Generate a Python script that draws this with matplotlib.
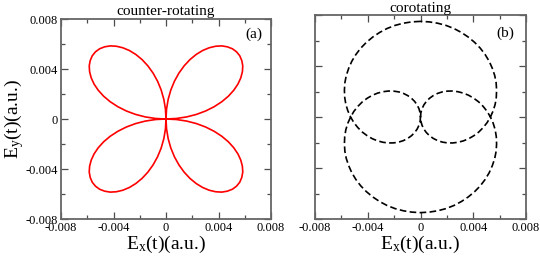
import numpy as np
import matplotlib.pyplot as plt
from matplotlib.ticker import MultipleLocator

plt.rcParams['font.family'] = ['Liberation Serif', 'DejaVu Serif']
plt.rcParams['mathtext.fontset'] = 'custom'
plt.rcParams['mathtext.rm'] = 'Liberation Serif'
plt.rcParams['mathtext.it'] = 'Liberation Serif:italic'

# (a) counter-rotating: radius of one leaf (a.u.) read at polar angles 0..90 deg
leaf_angle = np.arange(0, 91, 3)
leaf_radius = [0.0, 0.000794, 0.00158, 0.00235, 0.00309, 0.0038, 0.00447, 0.00509,
               0.00565, 0.00615, 0.00658, 0.00694, 0.00723, 0.00743, 0.00756, 0.0076,
               0.00756, 0.00743, 0.00723, 0.00694, 0.00658, 0.00615, 0.00565, 0.00509,
               0.00447, 0.0038, 0.00309, 0.00235, 0.00158, 0.000794, 0.0]

# (b) corotating: signed radius read along polar angle 90..270 deg (first quarter of the trace)
co_angle = np.arange(90, 811, 5)
co_radius_q = [0.0075, 0.00749, 0.00747, 0.00744, 0.00739, 0.00732, 0.00724, 0.00715,
               0.00705, 0.00693, 0.0068, 0.00665, 0.0065, 0.00633, 0.00614, 0.00595,
               0.00575, 0.00553, 0.0053, 0.00507, 0.00482, 0.00457, 0.0043, 0.00403,
               0.00375, 0.00346, 0.00317, 0.00287, 0.00257, 0.00226, 0.00194, 0.00162,
               0.0013, 0.00098, 0.00065, 0.00033, 0.0]

ticks = [-0.008, -0.004, 0, 0.004, 0.008]
tick_labels = ['-0.008', '-0.004', '0', '0.004', '0.008']

# build full traces using the symmetry of the curves
leaf = np.array(leaf_radius)
r_a = np.concatenate([leaf, leaf[1:], leaf[1:], leaf[1:]])
th_a = np.deg2rad(np.arange(0, 361, 3))
xa, ya = r_a * np.cos(th_a), r_a * np.sin(th_a)

q = np.array(co_radius_q)
r_b = np.concatenate([q, -q[::-1][1:], -q[1:], q[::-1][1:]])
th_b = np.deg2rad(co_angle)
xb, yb = r_b * np.cos(th_b), r_b * np.sin(th_b)

fig = plt.figure(figsize=(5.4, 2.56), dpi=100)
ax1 = fig.add_axes([61/540, 37/256, 210/540, 200/256])
ax2 = fig.add_axes([315/540, 37/256, 211/540, 204/256])

ax1.plot(xa, ya, color='#ff0000', lw=1.2)
ax2.plot(xb, yb, color='black', lw=1.2, linestyle=(0, (4, 2)))

for ax in (ax1, ax2):
    ax.set_xlim(-0.008, 0.008)
    ax.set_ylim(-0.008, 0.008)
    ax.set_xticks(ticks)
    ax.set_yticks(ticks)
    ax.set_xticklabels(tick_labels)
    ax.xaxis.set_minor_locator(MultipleLocator(0.002))
    ax.yaxis.set_minor_locator(MultipleLocator(0.002))
    ax.tick_params(which='both', direction='in', top=True, right=True,
                   labelsize=9, width=0.9, color='0.3', pad=2)
    ax.tick_params(which='major', length=5)
    ax.tick_params(which='minor', length=3)
    for s in ax.spines.values():
        s.set_color('0.4')
        s.set_linewidth(1.3)
    ax.set_xlabel(r'E$_\mathrm{x}$(t)(a.u.)', fontsize=14, labelpad=0)

ax1.set_yticklabels(tick_labels)
ax2.set_yticklabels([])
ax1.set_ylabel(r'E$_\mathrm{y}$(t)(a.u.)', fontsize=14, labelpad=0)

ax1.set_title('counter-rotating', fontsize=11, pad=3)
ax2.set_title('corotating', fontsize=11, pad=1)
ax1.text(0.92, 0.925, '(a)', transform=ax1.transAxes, fontsize=11, ha='center', va='center')
ax2.text(0.90, 0.91, '(b)', transform=ax2.transAxes, fontsize=11, ha='center', va='center')

fig.savefig('out.png', dpi=100)
